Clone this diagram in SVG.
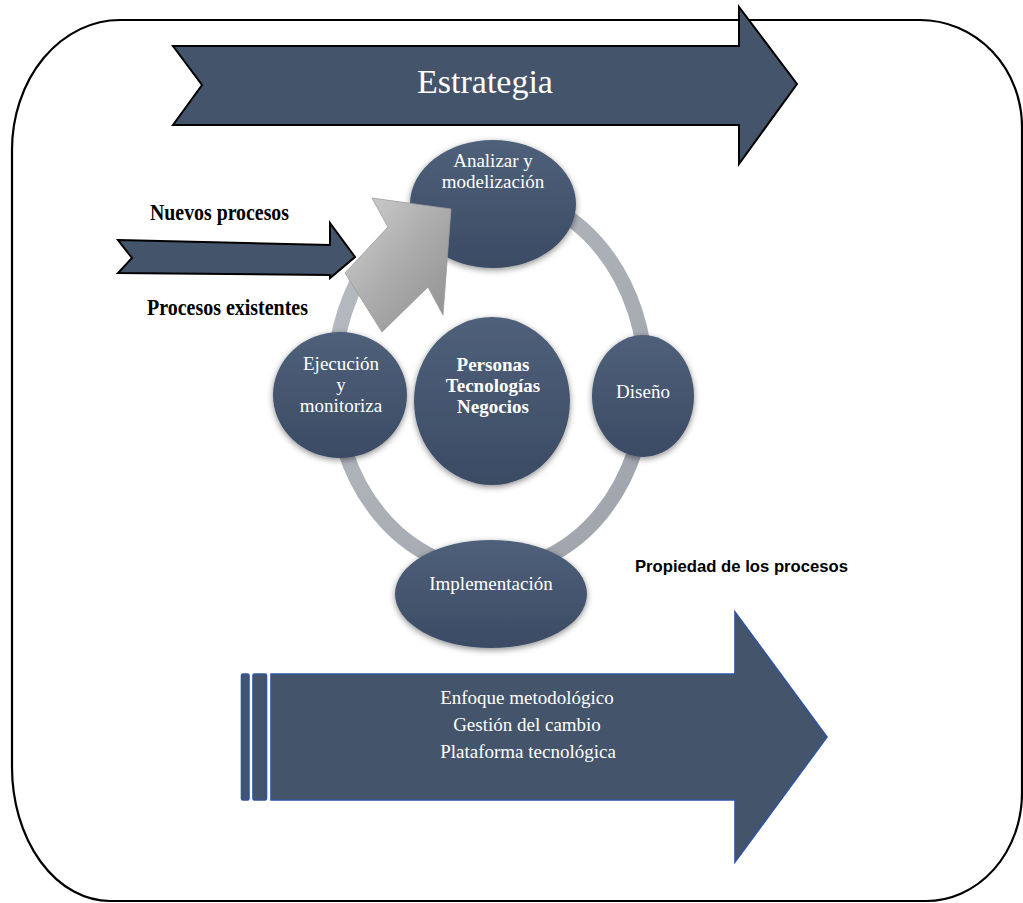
<svg xmlns="http://www.w3.org/2000/svg" width="1023" height="903" viewBox="0 0 1023 903">
  <defs>
    <linearGradient id="nodeGrad" x1="0" y1="0" x2="0" y2="1">
      <stop offset="0" stop-color="#4f607a"/>
      <stop offset="1" stop-color="#3b4b64"/>
    </linearGradient>
    <linearGradient id="ringGrad" x1="0" y1="0" x2="1" y2="1">
      <stop offset="0" stop-color="#b8bcc3"/>
      <stop offset="1" stop-color="#9ea3ab"/>
    </linearGradient>
    <linearGradient id="grayArrowGrad" x1="0" y1="0" x2="1" y2="1">
      <stop offset="0" stop-color="#d2d2d2"/>
      <stop offset="0.5" stop-color="#acacac"/>
      <stop offset="1" stop-color="#8e8e8e"/>
    </linearGradient>
    <filter id="soft" x="-20%" y="-20%" width="140%" height="140%">
      <feGaussianBlur in="SourceAlpha" stdDeviation="3"/>
      <feOffset dy="2" result="b"/>
      <feFlood flood-color="#000" flood-opacity="0.45"/>
      <feComposite in2="b" operator="in" result="s"/>
      <feMerge>
        <feMergeNode in="s"/>
        <feMergeNode in="SourceGraphic"/>
      </feMerge>
    </filter>
  </defs>
  <style>
    .frame { fill: none; stroke: #000; stroke-width: 2.2; }
    .darrow { fill: #44546a; stroke: #000; stroke-width: 2; }
    .barrow { fill: #44546a; stroke: #2f55a0; stroke-width: 1.6; }
    .node { fill: url(#nodeGrad); filter: url(#soft); }
    .ntext { font-family: "Liberation Serif", "Times New Roman", serif; font-size: 19px; fill: #ffffff; text-anchor: middle; }
    .btext { font-family: "Liberation Serif", "Times New Roman", serif; font-size: 19px; font-weight: bold; fill: #ffffff; text-anchor: middle; }
    .lbl { font-family: "Liberation Serif", "Times New Roman", serif; font-size: 24px; font-weight: bold; fill: #000; }
    .prop { font-family: "Liberation Sans", Arial, sans-serif; font-size: 16.5px; font-weight: bold; fill: #000; }
  </style>

  <rect x="0" y="0" width="1023" height="903" fill="#ffffff"/>

  <!-- outer frame -->
  <path class="frame" d="M120,20 L920,20 A102,107 0 0 1 1022,127 L1022,793 A96,108 0 0 1 926,901 L110,901 A98,134 0 0 1 12,767 L12,150 A108,130 0 0 1 120,20 Z"/>

  <!-- Estrategia arrow -->
  <g id="estrategia">
    <path class="darrow" d="M173,46 L739,46 L739,7 L797,84 L739,164 L739,125 L173,125 L202,85 Z"/>
    <text x="485" y="93" style="font-family: 'Liberation Serif', 'Times New Roman', serif; font-size: 34px; fill: #fff; text-anchor: middle;">Estrategia</text>
  </g>

  <!-- connectors: ring and arrows -->
  <g id="connectors">
    <ellipse cx="490" cy="381" rx="156" ry="189" fill="none" stroke="url(#ringGrad)" stroke-width="15"/>
    <path class="darrow" d="M118,240 L330,245 L330,223 L355,257 L330,278 L330,275 L118,273 L132,258 Z" stroke-width="1.8"/>
  </g>

  <g id="nuevos-label">
    <text class="lbl" x="150" y="220" textLength="139" lengthAdjust="spacingAndGlyphs">Nuevos procesos</text>
  </g>
  <g id="existentes-label">
    <text class="lbl" x="147" y="315" textLength="161" lengthAdjust="spacingAndGlyphs">Procesos existentes</text>
  </g>

  <!-- nodes -->
  <g id="node-analizar">
    <ellipse class="node" cx="493" cy="204" rx="83" ry="64"/>
    <text class="ntext" x="493" y="167" font-size="18.5">Analizar y</text>
    <text class="ntext" x="493" y="188" font-size="18.5">modelización</text>
  </g>

  <g id="gray-arrow">
    <path d="M451,209 L443,315 L428,287 L382,332 L345,273 L388,227 L372,198 Z" fill="url(#grayArrowGrad)" stroke="#9a9a9a" stroke-width="0.8"/>
  </g>

  <g id="node-ejecucion">
    <ellipse class="node" cx="340" cy="395" rx="67" ry="63"/>
    <text class="ntext" x="341" y="370">Ejecución</text>
    <text class="ntext" x="341" y="391">y</text>
    <text class="ntext" x="341" y="412">monitoriza</text>
  </g>

  <g id="node-centro">
    <ellipse class="node" cx="492" cy="401" rx="78" ry="84"/>
    <text class="btext" x="493" y="371">Personas</text>
    <text class="btext" x="493" y="392">Tecnologías</text>
    <text class="btext" x="493" y="413">Negocios</text>
  </g>

  <g id="node-diseno">
    <ellipse class="node" cx="643" cy="396" rx="51" ry="61"/>
    <text class="ntext" x="643" y="398">Diseño</text>
  </g>

  <g id="node-implementacion">
    <ellipse class="node" cx="491" cy="594" rx="96" ry="54"/>
    <text class="ntext" x="491" y="590">Implementación</text>
  </g>

  <g id="propiedad-label">
    <text class="prop" x="635" y="572" textLength="213" lengthAdjust="spacingAndGlyphs">Propiedad de los procesos</text>
  </g>

  <!-- bottom arrow -->
  <g id="enfoque">
    <rect class="barrow" x="241.5" y="674" width="7.5" height="126" rx="1.5"/>
    <rect class="barrow" x="253" y="674" width="13.5" height="126" rx="1.5"/>
    <path class="barrow" d="M271,674 L735,674 L735,612 L827,737 L735,862 L735,800 L271,800 Z"/>
    <text class="ntext" x="527" y="704">Enfoque metodológico</text>
    <text class="ntext" x="527" y="731">Gestión del cambio</text>
    <text class="ntext" x="528" y="758">Plataforma tecnológica</text>
  </g>
</svg>
